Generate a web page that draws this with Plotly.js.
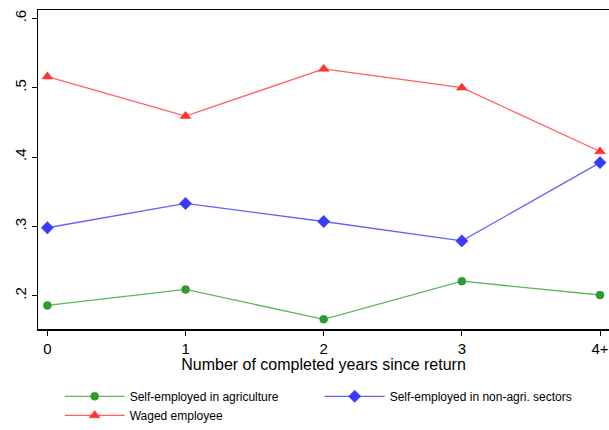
<!DOCTYPE html>
<html>
<head>
<meta charset="utf-8">
<script src="https://cdn.plot.ly/plotly-3.0.1.min.js"></script>
<style>
  html, body { margin: 0; padding: 0; background: #fff; }
  #chart { width: 609px; height: 430px; }
</style>
</head>
<body>
<div id="chart"></div>
<script>
// Years since return (categories) and the share in each employment type
const yearPos = [0, 1, 2, 3, 4];
const yearLabels = ["0", "1", "2", "3", "4+"];
const selfAgri = [0.186, 0.209, 0.166, 0.221, 0.201];
const selfNonAgri = [0.298, 0.333, 0.307, 0.279, 0.392];
const waged = [0.516, 0.459, 0.527, 0.500, 0.408];

const yTicks = [0.2, 0.3, 0.4, 0.5, 0.6];
const yTickText = [".2", ".3", ".4", ".5", ".6"];

const font = "Liberation Sans, Arial, Helvetica, sans-serif";

function series(name, y, lineColor, markerColor, symbol, size) {
  return {
    type: "scatter",
    mode: "lines+markers",
    name: name,
    x: yearPos,
    y: y,
    line: { color: lineColor, width: 1.3 },
    marker: { color: markerColor, symbol: symbol, size: size,
              line: { color: markerColor, width: 0.5 } }
  };
}

const data = [
  series("Self-employed in agriculture", selfAgri, "#5cb85c", "#2f9a2f", "circle", 8),
  series("Self-employed in non-agri. sectors", selfNonAgri, "#6262ff", "#3a3aff", "diamond", 9.5),
  series("Waged employee", waged, "#ff6060", "#ff3232", "triangle-up", 9.5)
];

const layout = {
  width: 609,
  height: 430,
  margin: { l: 38, r: 0, t: 10, b: 101 },
  paper_bgcolor: "#ffffff",
  plot_bgcolor: "#ffffff",
  font: { family: font, color: "#000000", size: 14 },
  showlegend: true,
  xaxis: {
    range: [-0.068, 4.065],
    tickmode: "array",
    tickvals: yearPos,
    ticktext: yearLabels,
    ticks: "outside",
    ticklen: 5,
    tickwidth: 1,
    tickcolor: "#000",
    tickfont: { size: 15 },
    showgrid: false,
    zeroline: false,
    showline: true,
    linecolor: "#000",
    linewidth: 1.5,
    mirror: true,
    title: { text: "Number of completed years since return", font: { size: 16 }, standoff: 2 }
  },
  yaxis: {
    range: [0.152, 0.612],
    tickmode: "array",
    tickvals: yTicks,
    ticktext: yTickText,
    tickangle: -90,
    ticks: "outside",
    ticklen: 5,
    tickwidth: 1,
    tickcolor: "#000",
    tickfont: { size: 15 },
    showgrid: false,
    zeroline: false,
    showline: true,
    linecolor: "#000",
    linewidth: 1.5
  },
  legend: {
    orientation: "h",
    xref: "container",
    x: 0.098,
    xanchor: "left",
    yref: "container",
    y: 0.112,
    yanchor: "top",
    font: { size: 12, family: font },
    entrywidth: 185,
    itemwidth: 60,
    bgcolor: "rgba(0,0,0,0)"
  }
};

Plotly.newPlot("chart", data, layout, { staticPlot: true, displayModeBar: false });
</script>
</body>
</html>
